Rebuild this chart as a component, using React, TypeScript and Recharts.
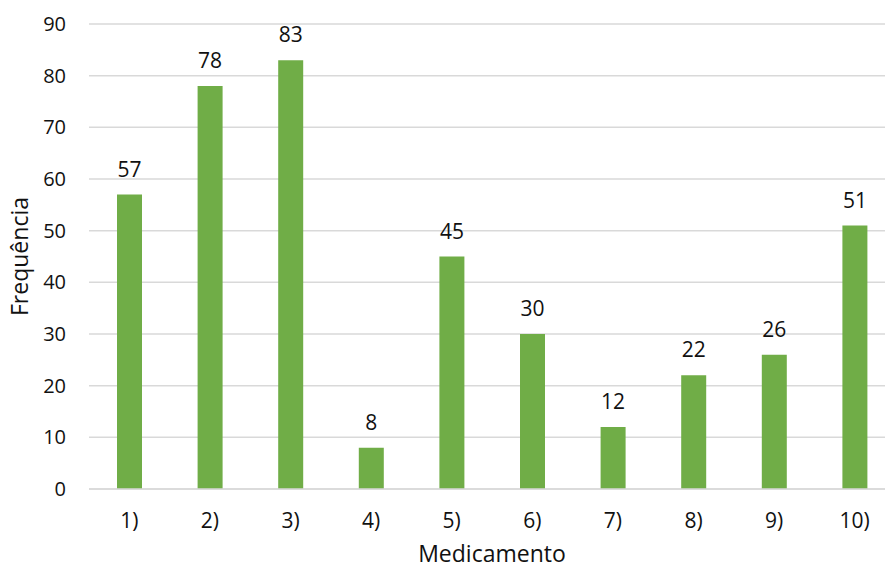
import React from 'react';
import { BarChart, Bar, XAxis, YAxis, CartesianGrid, LabelList } from 'recharts';

const categories = ['1)', '2)', '3)', '4)', '5)', '6)', '7)', '8)', '9)', '10)'];
const frequencia = [57, 78, 83, 8, 45, 30, 12, 22, 26, 51];
const yTicks = [0, 10, 20, 30, 40, 50, 60, 70, 80, 90];

const data = categories.map((name, i) => ({ name, value: frequencia[i] }));

const FONT = '"Open Sans", sans-serif';
const TEXT = '#111';

const App: React.FC = () => {
  return (
    <div style={{ position: 'absolute', left: 0, top: 0, width: 885, height: 569, overflow: 'hidden', background: '#fff' }}>
      <BarChart
        width={900}
        height={569}
        data={data}
        margin={{ top: 24, right: 5, bottom: 0, left: 0 }}
        style={{ fontFamily: FONT }}
      >
        <CartesianGrid vertical={false} stroke="#d9d9d9" strokeWidth={1.5} />
        <XAxis
          dataKey="name"
          axisLine={{ stroke: '#d9d9d9', strokeWidth: 1.5 }}
          tickLine={false}
          tickSize={0}
          tickMargin={24}
          tick={{ fill: TEXT, fontSize: 21, fontFamily: FONT }}
          label={{ value: 'Medicamento', position: 'insideBottom', offset: 7, fill: TEXT, fontSize: 23, fontFamily: FONT }}
          height={80}
        />
        <YAxis
          domain={[0, 90]}
          ticks={yTicks}
          width={89}
          axisLine={false}
          tickLine={false}
          tickSize={0}
          tickMargin={23}
          tick={{ fill: TEXT, fontSize: 20, fontFamily: FONT }}
          label={{ value: 'Frequência', angle: -90, position: 'insideLeft', offset: 20, style: { textAnchor: 'middle' }, fill: TEXT, fontSize: 23, fontFamily: FONT }}
        />
        <Bar dataKey="value" fill="#70ad47" barSize={25} isAnimationActive={false}>
          <LabelList dataKey="value" position="top" offset={18} fill={TEXT} fontSize={21} fontFamily={FONT} />
        </Bar>
      </BarChart>
    </div>
  );
};

export default App;
